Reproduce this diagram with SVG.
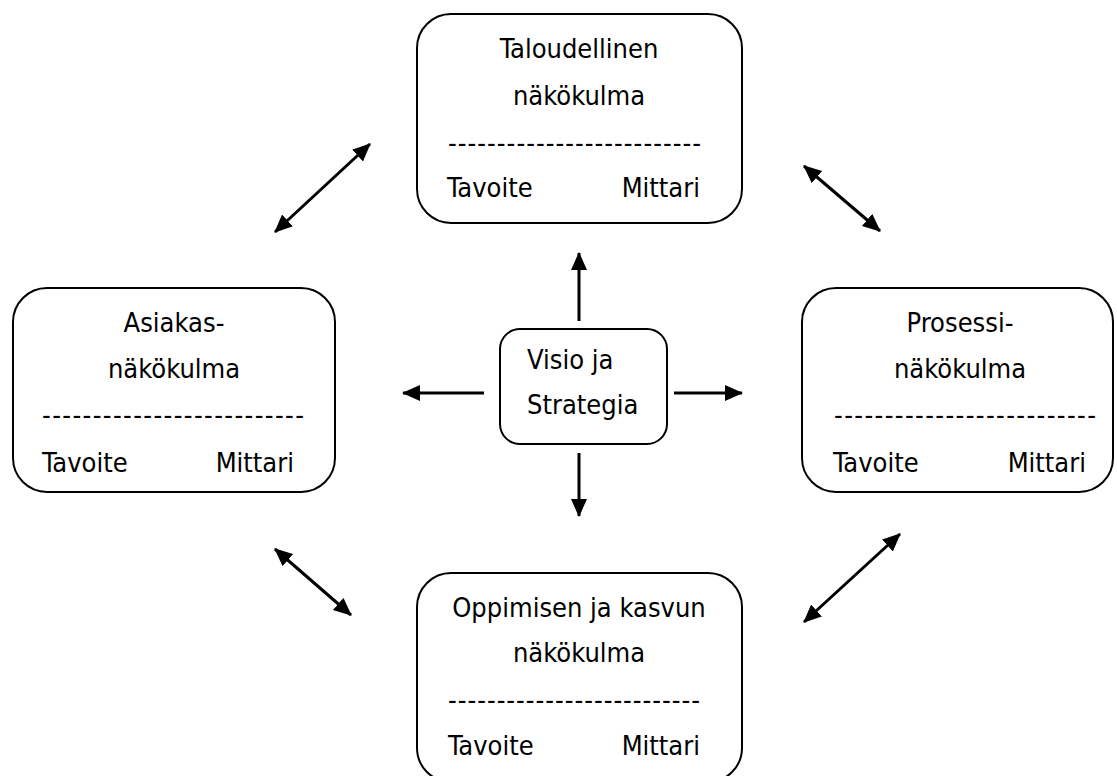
<svg xmlns="http://www.w3.org/2000/svg" width="1117" height="776" viewBox="0 0 1117 776">
<style>
.box{fill:#fff;stroke:#000;stroke-width:2}
.t{font-family:"DejaVu Sans Condensed","DejaVu Sans",sans-serif;font-size:27px;fill:#000}
.m{text-anchor:middle}
.e{text-anchor:end}
.c{stroke:#000;stroke-width:3;fill:none;marker-end:url(#ah)}
.d{stroke:#000;stroke-width:3;fill:none;marker-start:url(#ahs);marker-end:url(#ah)}
</style>
<defs>
<marker id="ah" viewBox="0 0 18 18" refX="17" refY="9" markerWidth="18" markerHeight="18" markerUnits="userSpaceOnUse" orient="auto"><path d="M0,1 L18,9 L0,17 Z" fill="#000"/></marker>
<marker id="ahs" viewBox="0 0 18 18" refX="1" refY="9" markerWidth="18" markerHeight="18" markerUnits="userSpaceOnUse" orient="auto"><path d="M18,1 L0,9 L18,17 Z" fill="#000"/></marker>
</defs>
<g id="connectors">
<line class="c" x1="579" y1="321" x2="579" y2="253"/>
<line class="c" x1="579" y1="453" x2="579" y2="516"/>
<line class="c" x1="484" y1="393" x2="403" y2="393"/>
<line class="c" x1="674" y1="393" x2="742" y2="393"/>
<line class="d" x1="370" y1="144" x2="275" y2="232"/>
<line class="d" x1="804" y1="166" x2="880" y2="231"/>
<line class="d" x1="275" y1="549" x2="351" y2="615"/>
<line class="d" x1="900" y1="534" x2="804" y2="622"/>
</g>
<g id="taloudellinen">
<rect class="box" x="417" y="14" width="325" height="209" rx="34"/>
<text class="t m" x="579" y="58">Taloudellinen</text>
<text class="t m" x="579" y="105">näkökulma</text>
<text class="t" x="448" y="152" textLength="253" lengthAdjust="spacing">--------------------------</text>
<text class="t" x="447" y="197">Tavoite</text>
<text class="t e" x="700" y="197">Mittari</text>
</g>
<g id="asiakas">
<rect class="box" x="13" y="288" width="322" height="204" rx="34"/>
<text class="t m" x="174" y="332">Asiakas-</text>
<text class="t m" x="174" y="378">näkökulma</text>
<text class="t" x="42" y="424" textLength="262" lengthAdjust="spacing">--------------------------</text>
<text class="t" x="42" y="472">Tavoite</text>
<text class="t e" x="294" y="472">Mittari</text>
</g>
<g id="prosessi">
<rect class="box" x="802" y="288" width="311" height="204" rx="34"/>
<text class="t m" x="960" y="332">Prosessi-</text>
<text class="t m" x="960" y="378">näkökulma</text>
<text class="t" x="834" y="424" textLength="262" lengthAdjust="spacing">--------------------------</text>
<text class="t" x="833" y="472">Tavoite</text>
<text class="t e" x="1086" y="472">Mittari</text>
</g>
<g id="oppimisen">
<rect class="box" x="417" y="573" width="325" height="209" rx="34"/>
<text class="t m" x="579" y="617">Oppimisen ja kasvun</text>
<text class="t m" x="579" y="662">näkökulma</text>
<text class="t" x="448" y="709" textLength="252" lengthAdjust="spacing">--------------------------</text>
<text class="t" x="448" y="755">Tavoite</text>
<text class="t e" x="700" y="755">Mittari</text>
</g>
<g id="visio">
<rect class="box" x="500" y="329" width="167" height="115" rx="20"/>
<text class="t" x="527" y="369">Visio ja</text>
<text class="t" x="527" y="414">Strategia</text>
</g>
</svg>
